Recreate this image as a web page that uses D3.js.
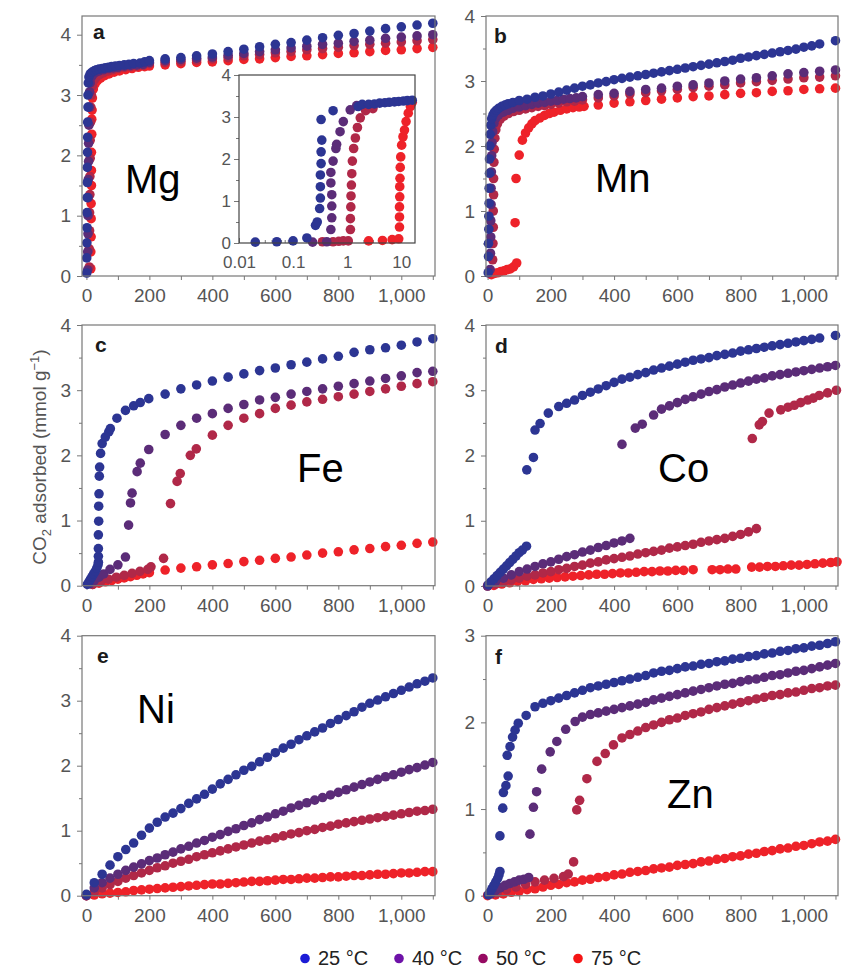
<!DOCTYPE html>
<html lang="en">
<head>
<meta charset="utf-8">
<title>CO2 adsorption isotherms</title>
<script src="https://cdn.jsdelivr.net/npm/d3@7"></script>
<style>
	body { margin: 0; background: #fff; }
	svg { display: block; }
	.axis text { font-family: "Liberation Sans", Arial, sans-serif; font-size: 19px; fill: #555; }
	.axis line { stroke: #777; }
	.axis path { display: none; }
	.inset .axis text { font-size: 17px; }
</style>
</head>
<body>
<div id="chart"></div>
<script>

// temperatures and colours
var temps = ["25 °C", "40 °C", "50 °C", "75 °C"];
var dotColors = ["#2c3593", "#5b2c78", "#b02848", "#ee2229"];
var legendColors = ["#1c1cd6", "#6e12a8", "#960a62", "#f51515"];

// pressure grids (mbar)
var p25 = [0,25,50,75,100,125,150,175,200,225,250,275,300,325,350,375,400,425,450,475,500,525,550,575,600,625,650,675,700,725,750,775,800,825,850,875,900,925,950,975,1000,1025,1050,1075,1100];
var p50 = [200,250,300,350,400,450,500,550,600,650,700,750,800,850,900,950,1000,1050,1100];

// tick labels
var xMajor = [0, 200, 400, 600, 800, 1000];
var xMinor = [100, 300, 500, 700, 900, 1100];
var yMajor4 = [0, 1, 2, 3, 4], yMinor4 = [0.5, 1.5, 2.5, 3.5];
var yMajor3 = [0, 1, 2, 3], yMinor3 = [0.5, 1.5, 2.5];
var insetXMajor = [0.01, 0.1, 1, 10];

// a: Mg
var mgBlueLow = [[1,0.05],[1,0.3],[1.5,0.55],[2,0.8],[2,1.05],[2.5,1.3],[3,1.55],[3,1.8],[3.5,2.05],[4,2.3],[4,2.55],[5,2.8],[5,3.0],[6,3.2],[8,3.3],[12,3.35],[18,3.38],[25,3.4],[32,3.42],[40,3.43],[50,3.44],[60,3.45],[70,3.46],[80,3.47],[92,3.48],[105,3.49],[120,3.5],[135,3.51],[150,3.52],[170,3.53],[185,3.55]];
var mgBlueHigh = [3.57,3.6,3.62,3.65,3.68,3.72,3.76,3.8,3.84,3.87,3.91,3.95,3.99,4.02,4.06,4.1,4.13,4.16,4.19];
var mgPurpleLow = [[4,0.1],[4,0.4],[5,0.7],[5,1.0],[6,1.3],[6,1.6],[7,1.9],[7,2.2],[8,2.5],[9,2.8],[10,3.05],[12,3.2],[16,3.3],[22,3.35],[30,3.38],[40,3.4],[55,3.42],[70,3.44],[85,3.45],[100,3.46],[120,3.48],[140,3.49],[160,3.5],[180,3.51]];
var mgPurpleHigh = [3.54,3.57,3.59,3.61,3.63,3.66,3.69,3.72,3.75,3.78,3.81,3.84,3.86,3.89,3.91,3.94,3.96,3.98,4.0];
var mgCrimsonLow = [[9,0.15],[9,0.45],[10,0.75],[10,1.05],[11,1.35],[11,1.65],[12,1.95],[12,2.25],[13,2.55],[14,2.8],[16,3.0],[19,3.15],[25,3.25],[32,3.3],[42,3.34],[55,3.37],[70,3.4],[85,3.42],[100,3.44],[120,3.46],[140,3.47],[160,3.48],[180,3.49]];
var mgCrimsonHigh = [3.52,3.54,3.56,3.58,3.6,3.62,3.65,3.67,3.7,3.72,3.75,3.77,3.79,3.82,3.84,3.86,3.88,3.9,3.92];
var mgRedLow = [[14,0.12],[14,0.4],[15,0.65],[15,0.95],[15,1.2],[16,1.5],[16,1.75],[16,2.05],[17,2.35],[17,2.6],[18,2.75],[19,2.95],[22,3.1],[27,3.18],[35,3.24],[45,3.28],[58,3.32],[72,3.35],[88,3.38],[105,3.4],[125,3.42],[145,3.44],[165,3.46],[185,3.47]];
var mgRedHigh = [3.48,3.5,3.52,3.54,3.55,3.57,3.59,3.6,3.62,3.64,3.65,3.67,3.69,3.7,3.72,3.74,3.75,3.77,3.79];

// a inset (log pressure)
var inBlue = [[0.02,0.02],[0.05,0.03],[0.1,0.05],[0.18,0.12],[0.26,0.42],[0.28,0.5],[0.31,0.82],[0.32,1.07],[0.32,1.34],[0.32,1.62],[0.33,1.89],[0.33,2.17],[0.34,2.45],[0.33,2.94],[0.55,3.15],[1.6,3.25],[1.9,3.3],[2.5,3.3],[3.2,3.31],[4,3.33],[5,3.34],[6,3.35],[7.5,3.36],[9,3.37],[11,3.38],[13,3.39],[16,3.4]];
var inPurple = [[0.23,0.02],[0.42,0.03],[0.5,0.32],[0.52,0.6],[0.52,0.88],[0.52,1.15],[0.5,1.43],[0.5,1.68],[0.55,1.95],[0.62,2.25],[0.64,2.35],[0.74,2.65],[0.85,2.89],[1.14,3.17],[1.5,3.27]];
var inCrimson = [[0.35,0.03],[0.55,0.03],[0.7,0.04],[0.85,0.05],[1.05,0.05],[1.15,0.32],[1.15,0.58],[1.17,0.86],[1.18,1.12],[1.2,1.38],[1.22,1.65],[1.25,1.95],[1.32,2.25],[1.42,2.5],[1.55,2.75],[1.75,2.98],[2.2,3.15],[3,3.2]];
var inRed = [[2.5,0.05],[4.5,0.06],[6.8,0.08],[9,0.1],[9.3,0.38],[9.3,0.62],[9.3,0.86],[9.4,1.1],[9.4,1.34],[9.5,1.54],[9.6,1.8],[9.8,2.05],[10.2,2.33],[10.8,2.53],[11.5,2.69],[12.3,2.89],[13.5,3.09],[14.8,3.25],[16,3.35]];

// b: Mn
var mnBlueLow = [[2,0.05],[3,0.3],[3,0.5],[4,0.72],[4,0.92],[5,1.12],[5,1.35],[6,1.58],[6,1.8],[7,2.0],[8,2.18],[10,2.32],[13,2.42],[17,2.48],[22,2.52],[28,2.55],[35,2.58],[45,2.61],[55,2.63],[65,2.65],[80,2.67]];
var mnBlueMid = [2.7,2.72,2.75,2.77,2.8,2.83,2.86,2.89,2.92,2.94,2.97,2.99,3.02,3.04,3.06,3.08,3.1,3.12,3.14,3.16,3.18,3.2,3.22,3.24,3.26,3.28,3.3,3.32,3.35,3.37,3.39,3.41,3.43,3.45,3.47,3.49,3.52,3.54,3.57];
var mnBlueEnd = [[1100,3.62]];
var mnPurpleLow = [[8,0.1],[9,0.35],[10,0.6],[10,0.85],[11,1.1],[11,1.35],[12,1.6],[13,1.85],[14,2.05],[16,2.22],[20,2.35],[26,2.43],[35,2.48],[50,2.52],[65,2.55],[80,2.58],[100,2.6],[120,2.62],[140,2.64],[160,2.66],[180,2.67],[200,2.69],[220,2.7],[240,2.72],[260,2.73],[280,2.74],[300,2.76]];
var mnPurpleHigh = [2.79,2.81,2.84,2.87,2.89,2.92,2.94,2.97,3.0,3.03,3.05,3.08,3.11,3.13,3.15,3.17];
var mnCrimsonLow = [[16,0.25],[17,0.5],[18,0.75],[18,1.0],[19,1.25],[19,1.5],[20,1.75],[21,1.95],[23,2.12],[26,2.25],[31,2.34],[40,2.41],[52,2.46],[66,2.5],[82,2.53],[100,2.55],[120,2.57],[140,2.59],[160,2.61],[180,2.62],[200,2.64],[225,2.66],[250,2.68],[275,2.69],[300,2.71]];
var mnCrimsonHigh = [2.74,2.77,2.8,2.82,2.85,2.87,2.9,2.92,2.94,2.97,2.99,3.01,3.03,3.05,3.06,3.08];
var mnRedLow = [[12,0.02],[22,0.04],[32,0.05],[42,0.07],[52,0.08],[62,0.1],[72,0.11],[82,0.14],[92,0.2],[87,0.82],[90,1.5],[100,1.86],[110,2.09],[120,2.2],[130,2.28],[140,2.34],[150,2.39],[165,2.43],[180,2.47],[195,2.5],[210,2.52],[230,2.55],[250,2.57],[270,2.59],[290,2.6],[305,2.61]];
var mnRedHigh = [2.63,2.66,2.68,2.7,2.72,2.74,2.76,2.77,2.79,2.81,2.82,2.84,2.85,2.87,2.88,2.89];

// c: Fe
var feBlueLow = [[3,0.02],[8,0.06],[13,0.1],[18,0.14],[23,0.18],[28,0.22],[33,0.27],[37,0.32],[38,0.36],[38,0.45],[38,0.57],[38,0.78],[39,0.99],[39,1.22],[40,1.41],[41,1.68],[42,1.82],[45,2.03],[50,2.18],[60,2.28],[71,2.36],[76,2.41],[97,2.57],[124,2.69],[150,2.76],[171,2.81],[198,2.87]];
var feBlueHigh = [2.94,3.02,3.08,3.14,3.2,3.25,3.3,3.34,3.39,3.43,3.48,3.52,3.58,3.62,3.65,3.69,3.74,3.79];
var fePurpleLow = [[10,0.03],[25,0.08],[40,0.13],[55,0.18],[75,0.25],[100,0.32],[124,0.44],[134,0.93],[140,1.27],[145,1.42],[161,1.75],[171,1.88],[198,2.09]];
var fePurpleHigh = [2.32,2.46,2.57,2.64,2.72,2.78,2.85,2.89,2.94,2.98,3.02,3.06,3.1,3.14,3.18,3.22,3.27,3.29];
var feCrimsonLow = [[20,0.02],[45,0.06],[70,0.1],[95,0.13],[120,0.16],[145,0.19],[170,0.22],[195,0.25],[205,0.29],[245,0.42],[267,1.26],[288,1.6],[298,1.72],[330,2.0],[349,2.1]];
var feCrimsonHigh = [2.31,2.46,2.57,2.64,2.72,2.77,2.82,2.86,2.9,2.94,2.98,3.02,3.06,3.1,3.13];
var feRedLow = [[20,0.02],[40,0.04],[60,0.06],[80,0.08],[100,0.1],[120,0.12],[140,0.14],[160,0.16],[180,0.18],[200,0.2]];
var feRedHigh = [0.24,0.27,0.29,0.32,0.34,0.37,0.39,0.42,0.44,0.47,0.5,0.52,0.55,0.57,0.6,0.62,0.65,0.67];

// d: Co
var coBlueLow = [[3,0.02],[10,0.06],[20,0.11],[30,0.16],[40,0.21],[50,0.26],[60,0.31],[70,0.36],[80,0.41],[90,0.46],[100,0.51],[110,0.55],[123,0.61],[124,1.78],[145,1.97],[150,2.39],[166,2.49],[192,2.65]];
var coBlueHigh = [2.75,2.8,2.85,2.92,2.97,3.02,3.07,3.12,3.17,3.2,3.24,3.27,3.31,3.34,3.37,3.4,3.43,3.46,3.48,3.5,3.53,3.55,3.57,3.6,3.62,3.64,3.66,3.68,3.7,3.72,3.74,3.76,3.78,3.8];
var coBlueEnd = [[1100,3.84]];
var coPurpleLow = [0,0.07,0.12,0.17,0.22,0.26,0.3,0.34,0.37,0.41,0.45,0.48,0.52,0.55,0.59,0.62,0.66,0.69,0.73];
var coPurpleStep = [[425,2.17],[467,2.42],[489,2.48],[525,2.62]];
var coPurpleHigh = [2.71,2.76,2.81,2.86,2.9,2.94,2.98,3.01,3.05,3.08,3.11,3.14,3.17,3.19,3.22,3.24,3.26,3.28,3.3,3.32,3.34,3.36,3.38];
var coCrimsonLow = [0,0.03,0.06,0.09,0.12,0.15,0.17,0.2,0.22,0.25,0.27,0.3,0.32,0.35,0.37,0.4,0.42,0.44,0.46,0.49,0.51,0.53,0.55,0.58,0.6,0.62,0.64,0.67,0.69,0.71,0.73,0.76,0.79,0.83,0.88];
var coCrimsonHigh = [[837,2.26],[859,2.47],[869,2.52],[890,2.65],[927,2.7],[950,2.74],[970,2.77],[990,2.81],[1012,2.85],[1030,2.88],[1049,2.92],[1075,2.96],[1103,3.0]];
var coRed = [[20,0.01],[45,0.03],[70,0.05],[95,0.07],[120,0.08],[145,0.1],[170,0.11],[195,0.12],[220,0.13],[245,0.14],[270,0.15],[295,0.16],[320,0.17],[345,0.18],[370,0.18],[395,0.19],[420,0.2],[445,0.2],[470,0.21],[495,0.22],[520,0.22],[545,0.23],[570,0.23],[595,0.24],[620,0.24],[650,0.25],[710,0.25],[735,0.25],[760,0.26],[785,0.26],[835,0.29],[860,0.29],[885,0.3],[910,0.3],[935,0.31],[960,0.32],[985,0.32],[1010,0.33],[1035,0.34],[1060,0.35],[1085,0.36],[1105,0.37]];

// e: Ni (all on p25)
var niBlue = [0.02,0.2,0.33,0.47,0.6,0.71,0.81,0.93,1.04,1.13,1.21,1.27,1.34,1.42,1.49,1.56,1.64,1.72,1.79,1.86,1.93,1.99,2.06,2.13,2.2,2.27,2.33,2.4,2.46,2.52,2.58,2.65,2.71,2.77,2.83,2.9,2.96,3.01,3.06,3.11,3.16,3.21,3.26,3.3,3.35];
var niPurple = [0,0.12,0.2,0.27,0.33,0.39,0.44,0.49,0.54,0.58,0.63,0.67,0.72,0.76,0.81,0.85,0.9,0.94,0.99,1.03,1.08,1.12,1.17,1.21,1.26,1.3,1.35,1.39,1.43,1.47,1.51,1.55,1.59,1.63,1.67,1.71,1.75,1.79,1.83,1.86,1.9,1.94,1.97,2.01,2.05];
var niCrimson = [0,0.06,0.12,0.17,0.22,0.27,0.31,0.35,0.39,0.43,0.46,0.5,0.53,0.56,0.6,0.63,0.66,0.69,0.72,0.75,0.78,0.81,0.84,0.86,0.89,0.92,0.95,0.97,1.0,1.02,1.05,1.07,1.1,1.12,1.14,1.16,1.18,1.2,1.22,1.24,1.26,1.28,1.3,1.31,1.33];
var niRed = [0,0.01,0.03,0.04,0.05,0.06,0.08,0.09,0.1,0.11,0.12,0.13,0.14,0.15,0.16,0.17,0.18,0.18,0.19,0.2,0.21,0.22,0.22,0.23,0.24,0.25,0.25,0.26,0.27,0.27,0.28,0.29,0.29,0.3,0.31,0.31,0.32,0.33,0.33,0.34,0.35,0.35,0.36,0.37,0.37];

// f: Zn
var znBlueLow = [[2,0.01],[8,0.04],[14,0.08],[20,0.12],[26,0.16],[32,0.2],[36,0.24],[39,0.28],[39,0.69],[48,1.01],[50,1.19],[58,1.27],[65,1.38],[62,1.62],[71,1.72],[79,1.83],[87,1.91],[97,1.99],[122,2.08],[150,2.18]];
var znBlueHigh = [2.22,2.25,2.28,2.31,2.34,2.37,2.4,2.42,2.44,2.46,2.48,2.5,2.52,2.54,2.57,2.59,2.6,2.62,2.64,2.65,2.67,2.68,2.7,2.71,2.73,2.74,2.76,2.77,2.79,2.8,2.82,2.83,2.85,2.86,2.88,2.89,2.91,2.93];
var znPurpleLow = [[10,0.02],[25,0.06],[40,0.09],[55,0.12],[70,0.14],[85,0.16],[100,0.18],[115,0.19],[130,0.21],[134,0.71],[145,1.02],[155,1.2],[171,1.46],[198,1.66],[219,1.78],[247,1.92],[277,2.01]];
var znPurpleHigh = [2.06,2.09,2.11,2.13,2.15,2.17,2.19,2.21,2.23,2.26,2.28,2.3,2.32,2.34,2.36,2.38,2.4,2.42,2.44,2.45,2.47,2.49,2.5,2.52,2.54,2.55,2.57,2.59,2.6,2.62,2.64,2.66,2.68];
var znCrimsonLow = [[30,0.03],[60,0.07],[90,0.1],[120,0.13],[150,0.16],[180,0.18],[210,0.2],[240,0.22],[255,0.25],[272,0.39],[282,0.99],[291,1.1],[314,1.35],[346,1.55],[372,1.64],[398,1.74],[425,1.82]];
var znCrimsonHigh = [1.86,1.9,1.94,1.97,2.0,2.03,2.05,2.08,2.1,2.12,2.15,2.17,2.19,2.21,2.23,2.25,2.27,2.29,2.31,2.32,2.34,2.35,2.37,2.39,2.4,2.42,2.43];
var znRed = [0,0.01,0.02,0.04,0.05,0.07,0.08,0.1,0.12,0.13,0.15,0.16,0.18,0.19,0.21,0.22,0.24,0.25,0.27,0.28,0.29,0.31,0.32,0.33,0.35,0.36,0.37,0.39,0.4,0.42,0.43,0.45,0.46,0.48,0.49,0.51,0.52,0.54,0.55,0.57,0.58,0.6,0.62,0.63,0.65];

// pair a run of values with a pressure grid, starting at a given pressure
function onGrid(grid, start, ys) {
	var i0 = grid.indexOf(start);
	return ys.map(function(q, i) { return [grid[i0 + i], q]; });
}

var panels = [
	{ letter: "a", name: "Mg", left: 82, right: 435, top: 16, bottom: 276, xDomain: [-14, 1107], yMax: 4.31,
	  yMajor: yMajor4, yMinor: yMinor4, nameAt: [125, 193], letterAt: [93, 39],
	  series: [mgBlueLow.concat(onGrid(p50, 200, mgBlueHigh)),
	           mgPurpleLow.concat(onGrid(p50, 200, mgPurpleHigh)),
	           mgCrimsonLow.concat(onGrid(p50, 200, mgCrimsonHigh)),
	           mgRedLow.concat(onGrid(p50, 200, mgRedHigh))] },
	{ letter: "b", name: "Mn", left: 486, right: 838, top: 16, bottom: 276, xDomain: [-5, 1108], yMax: 4,
	  yMajor: yMajor4, yMinor: yMinor4, nameAt: [595, 192], letterAt: [494, 43],
	  series: [mnBlueLow.concat(onGrid(p25, 100, mnBlueMid), mnBlueEnd),
	           mnPurpleLow.concat(onGrid(p50, 350, mnPurpleHigh)),
	           mnCrimsonLow.concat(onGrid(p50, 350, mnCrimsonHigh)),
	           mnRedLow.concat(onGrid(p50, 350, mnRedHigh))] },
	{ letter: "c", name: "Fe", left: 82, right: 435, top: 325, bottom: 585.7, xDomain: [-14, 1107], yMax: 4,
	  yMajor: yMajor4, yMinor: yMinor4, nameAt: [297, 482], letterAt: [95, 352],
	  series: [feBlueLow.concat(onGrid(p50, 250, feBlueHigh)),
	           fePurpleLow.concat(onGrid(p50, 250, fePurpleHigh)),
	           feCrimsonLow.concat(onGrid(p50, 400, feCrimsonHigh)),
	           feRedLow.concat(onGrid(p50, 250, feRedHigh))] },
	{ letter: "d", name: "Co", left: 486, right: 838, top: 325, bottom: 586, xDomain: [-5, 1108], yMax: 4,
	  yMajor: yMajor4, yMinor: yMinor4, nameAt: [658, 482], letterAt: [495, 353],
	  series: [coBlueLow.concat(onGrid(p25, 225, coBlueHigh), coBlueEnd),
	           onGrid(p25, 0, coPurpleLow).concat(coPurpleStep, onGrid(p25, 550, coPurpleHigh)),
	           onGrid(p25, 0, coCrimsonLow).concat(coCrimsonHigh),
	           coRed] },
	{ letter: "e", name: "Ni", left: 82, right: 435, top: 635.7, bottom: 895.7, xDomain: [-14, 1107], yMax: 4,
	  yMajor: yMajor4, yMinor: yMinor4, nameAt: [137, 723], letterAt: [97, 663],
	  series: [onGrid(p25, 0, niBlue), onGrid(p25, 0, niPurple), onGrid(p25, 0, niCrimson), onGrid(p25, 0, niRed)] },
	{ letter: "f", name: "Zn", left: 486, right: 838, top: 635.7, bottom: 895.7, xDomain: [-5, 1108], yMax: 3,
	  yMajor: yMajor3, yMinor: yMinor3, nameAt: [667, 808], letterAt: [495, 664],
	  series: [znBlueLow.concat(onGrid(p25, 175, znBlueHigh)),
	           znPurpleLow.concat(onGrid(p25, 300, znPurpleHigh)),
	           znCrimsonLow.concat(onGrid(p25, 450, znCrimsonHigh)),
	           onGrid(p25, 0, znRed)] }
];

var fmt = d3.format(",");
var intFmt = d3.format("d");
var r = 4.8;

var svg = d3.select("#chart")
	.append("svg")
	.attr("width", 843)
	.attr("height", 970);

panels.forEach(function(p) {
	var x = d3.scaleLinear().domain(p.xDomain).range([p.left, p.right]);
	var y = d3.scaleLinear().domain([0, p.yMax]).range([p.bottom, p.top]);
	var g = svg.append("g");

	//X axis, major with labels, minor without
	g.append("g")
		.attr("class", "axis")
		.attr("transform", "translate(0," + p.bottom + ")")
		.call(d3.axisBottom(x).tickValues(xMajor).tickSize(4).tickPadding(8.5).tickFormat(fmt));
	g.append("g")
		.attr("class", "axis")
		.attr("transform", "translate(0," + p.bottom + ")")
		.call(d3.axisBottom(x).tickValues(xMinor).tickSize(4).tickFormat(""));

	//Y axis
	g.append("g")
		.attr("class", "axis")
		.attr("transform", "translate(" + p.left + ",0)")
		.call(d3.axisLeft(y).tickValues(p.yMajor).tickSize(5).tickPadding(6).tickFormat(intFmt));
	g.append("g")
		.attr("class", "axis")
		.attr("transform", "translate(" + p.left + ",0)")
		.call(d3.axisLeft(y).tickValues(p.yMinor).tickSize(3).tickFormat(""));

	//Dots, 75 °C first so that 25 °C ends on top
	d3.range(p.series.length - 1, -1, -1).forEach(function(si) {
		g.append("g").selectAll("circle")
			.data(p.series[si])
			.enter()
			.append("circle")
			.attr("cx", function(d) { return x(d[0]); })
			.attr("cy", function(d) { return y(d[1]); })
			.attr("r", r)
			.attr("fill", dotColors[si]);
	});

	//Frame
	g.append("rect")
		.attr("x", p.left)
		.attr("y", p.top)
		.attr("width", p.right - p.left)
		.attr("height", p.bottom - p.top)
		.attr("fill", "none")
		.attr("stroke", "#777")
		.attr("stroke-width", 1.2);

	g.append("text")
		.attr("x", p.letterAt[0])
		.attr("y", p.letterAt[1])
		.attr("font-family", "Liberation Sans, Arial, sans-serif")
		.attr("font-weight", "bold")
		.attr("font-size", "21px")
		.attr("fill", "#1a1a1a")
		.text(p.letter);

	g.append("text")
		.attr("x", p.nameAt[0])
		.attr("y", p.nameAt[1])
		.attr("font-family", "Liberation Sans, Arial, sans-serif")
		.attr("font-size", "40px")
		.attr("fill", "#000")
		.text(p.name);
});

//Inset in panel a
var inset = { left: 239, right: 415, top: 75, bottom: 243 };
var ix = d3.scaleLog().domain([0.01, 18]).range([inset.left, inset.right]);
var iy = d3.scaleLinear().domain([0, 4]).range([inset.bottom, inset.top]);
var ig = svg.append("g").attr("class", "inset");

ig.append("rect")
	.attr("x", inset.left)
	.attr("y", inset.top)
	.attr("width", inset.right - inset.left)
	.attr("height", inset.bottom - inset.top)
	.attr("fill", "#fff");

ig.append("g")
	.attr("class", "axis")
	.attr("transform", "translate(0," + inset.bottom + ")")
	.call(d3.axisBottom(ix).tickValues(insetXMajor).tickSize(-5).tickPadding(13)
		.tickFormat(function(d) { return String(d); }));
ig.append("g")
	.attr("class", "axis")
	.attr("transform", "translate(0," + inset.bottom + ")")
	.call(d3.axisBottom(ix)
		.tickValues(ix.ticks().filter(function(d) { return insetXMajor.indexOf(d) < 0; }))
		.tickSize(-3).tickFormat(""));
ig.append("g")
	.attr("class", "axis")
	.attr("transform", "translate(" + inset.left + ",0)")
	.call(d3.axisLeft(iy).tickValues(yMajor4).tickSize(5).tickPadding(3).tickFormat(intFmt));
ig.append("g")
	.attr("class", "axis")
	.attr("transform", "translate(" + inset.left + ",0)")
	.call(d3.axisLeft(iy).tickValues(yMinor4).tickSize(3).tickFormat(""));

var insetSeries = [inBlue, inPurple, inCrimson, inRed];
d3.range(3, -1, -1).forEach(function(si) {
	ig.append("g").selectAll("circle")
		.data(insetSeries[si])
		.enter()
		.append("circle")
		.attr("cx", function(d) { return ix(d[0]); })
		.attr("cy", function(d) { return iy(d[1]); })
		.attr("r", r)
		.attr("fill", dotColors[si]);
});

ig.append("rect")
	.attr("x", inset.left)
	.attr("y", inset.top)
	.attr("width", inset.right - inset.left)
	.attr("height", inset.bottom - inset.top)
	.attr("fill", "none")
	.attr("stroke", "#444")
	.attr("stroke-width", 1.2);

//Y axis title
var yTitle = svg.append("text")
	.attr("transform", "translate(46,457) rotate(-90)")
	.attr("text-anchor", "middle")
	.attr("font-family", "Liberation Sans, Arial, sans-serif")
	.attr("font-size", "19px")
	.attr("fill", "#555");
yTitle.append("tspan").text("CO");
yTitle.append("tspan").attr("dy", 5).attr("font-size", "13px").text("2");
yTitle.append("tspan").attr("dy", -5).text(" adsorbed (mmol g");
yTitle.append("tspan").attr("dy", -7).attr("font-size", "13px").text("\u22121");
yTitle.append("tspan").attr("dy", 7).text(")");

//Legend
var legendX = [305, 399, 483, 578];
var legend = svg.append("g");
temps.forEach(function(t, i) {
	legend.append("circle")
		.attr("cx", legendX[i])
		.attr("cy", 958.5)
		.attr("r", 4.8)
		.attr("fill", legendColors[i]);
	legend.append("text")
		.attr("x", legendX[i] + 13)
		.attr("y", 965)
		.attr("font-family", "Liberation Sans, Arial, sans-serif")
		.attr("font-size", "20px")
		.attr("fill", "#222")
		.text(t);
});

</script>
</body>
</html>
